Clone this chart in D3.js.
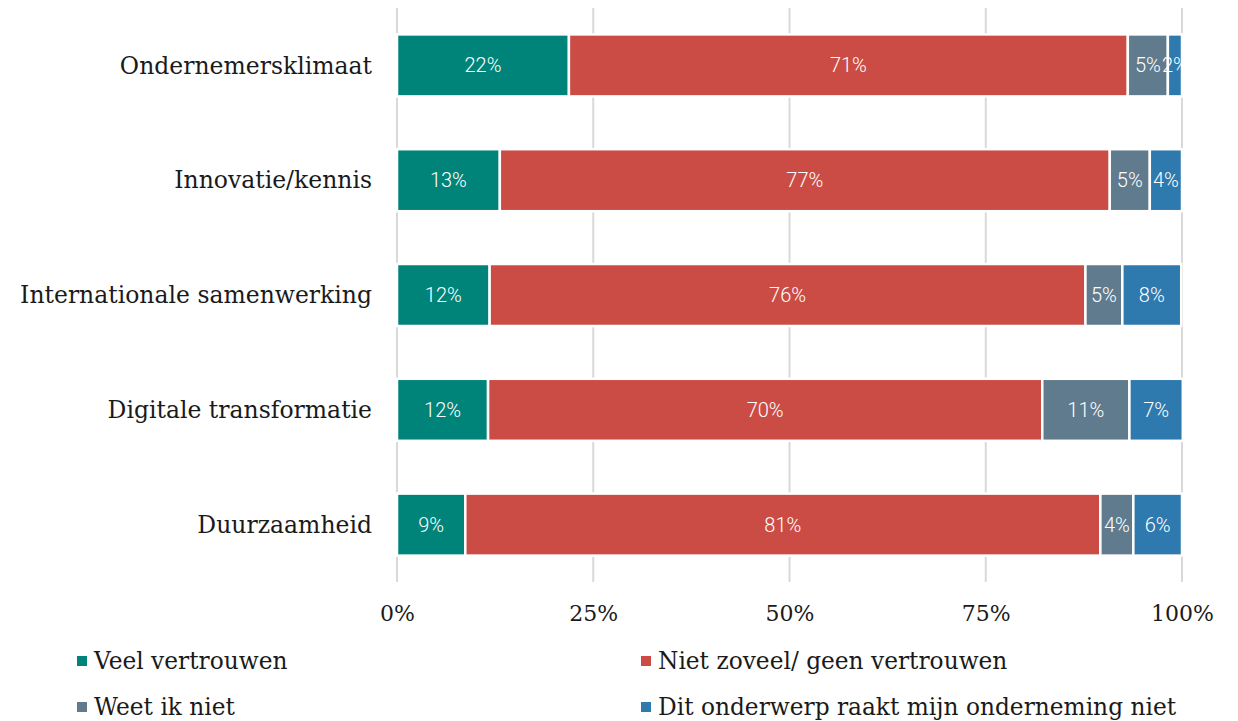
<!DOCTYPE html>
<html>
<head>
<meta charset="utf-8">
<script src="https://cdn.jsdelivr.net/npm/d3@7"></script>
<style>
  body { margin: 0; background: #fff; }
  .cat { font-family: "DejaVu Serif", serif; font-size: 23.5px; fill: #1a1a1a; }
  .tick-lbl { font-family: "DejaVu Serif", serif; font-size: 22px; fill: #1a1a1a; }
  .val { font-family: Roboto, sans-serif; font-size: 20px; font-weight: 300; fill: #fff; }
  .leg { font-family: "DejaVu Serif", serif; font-size: 23.3px; fill: #1a1a1a; }
</style>
</head>
<body>
<div id="chart"></div>
<script>
// Data
// ==============================
var categories = ["Ondernemersklimaat", "Innovatie/kennis", "Internationale samenwerking", "Digitale transformatie", "Duurzaamheid"];
var seriesNames = ["Veel vertrouwen", "Niet zoveel/ geen vertrouwen", "Weet ik niet", "Dit onderwerp raakt mijn onderneming niet"];
var veel = [21.9, 13.1, 11.8, 11.6, 8.7];
var nietZoveel = [71.2, 77.7, 75.9, 70.6, 80.9];
var weetNiet = [5.1, 5.1, 4.7, 11.1, 4.2];
var raaktNiet = [1.8, 4.1, 7.5, 6.8, 6.2];
var valueLabels = [
  ["22%", "71%", "5%", "2%"],
  ["13%", "77%", "5%", "4%"],
  ["12%", "76%", "5%", "8%"],
  ["12%", "70%", "11%", "7%"],
  ["9%", "81%", "4%", "6%"]
];
var tickValues = [0, 25, 50, 75, 100];
var colors = ["#00847a", "#cb4c44", "#5f7b8d", "#2e79ad"];

var svgWidth = 1238;
var svgHeight = 721;

var svg = d3.select("#chart")
  .append("svg")
  .attr("width", svgWidth)
  .attr("height", svgHeight);

// Scales
// ==============================
var xScale = d3.scaleLinear().domain([0, 100]).range([397, 1182]);
var yScale = d3.scaleBand().domain(categories).range([8, 582]).paddingInner(0.46).paddingOuter(0.23);

// Gridlines
svg.append("g")
  .selectAll("line")
  .data(tickValues)
  .enter()
  .append("line")
  .attr("x1", d => xScale(d))
  .attr("x2", d => xScale(d))
  .attr("y1", 8)
  .attr("y2", 582)
  .attr("stroke", "#d9d9d9")
  .attr("stroke-width", 2);

// Tick labels
var xAxis = d3.axisBottom(xScale).tickValues(tickValues).tickFormat(d => d + "%").tickSize(0);
var axisG = svg.append("g")
  .attr("transform", "translate(0, 602)")
  .call(xAxis);
axisG.select(".domain").remove();
axisG.selectAll("text").attr("class", "tick-lbl").attr("font-family", null).attr("font-size", null);

// Stack data
var rows = categories.map(function(c, i) {
  return { cat: c, s0: veel[i], s1: nietZoveel[i], s2: weetNiet[i], s3: raaktNiet[i], labels: valueLabels[i] };
});
var stack = d3.stack().keys(["s0", "s1", "s2", "s3"]);
var stacked = stack(rows);

var layers = svg.append("g")
  .selectAll("g")
  .data(stacked)
  .enter()
  .append("g")
  .attr("fill", (d, i) => colors[i]);

layers.selectAll("rect")
  .data(d => d)
  .enter()
  .append("rect")
  .attr("x", d => xScale(d[0]))
  .attr("y", d => yScale(d.data.cat))
  .attr("width", d => xScale(d[1]) - xScale(d[0]))
  .attr("height", yScale.bandwidth())
  .attr("stroke", "#fff")
  .attr("stroke-width", 2.5);

// Value labels
stacked.forEach(function(layer, k) {
  svg.append("g")
    .selectAll("text")
    .data(layer)
    .enter()
    .append("text")
    .attr("class", "val")
    .attr("x", d => (xScale(d[0]) + xScale(d[1])) / 2)
    .attr("y", d => yScale(d.data.cat) + yScale.bandwidth() / 2)
    .attr("dy", "0.35em")
    .attr("text-anchor", "middle")
    .text(d => d.data.labels[k]);
});

// Category labels
svg.append("g")
  .selectAll("text")
  .data(categories)
  .enter()
  .append("text")
  .attr("class", "cat")
  .attr("x", 372)
  .attr("y", d => yScale(d) + yScale.bandwidth() / 2)
  .attr("dy", "0.35em")
  .attr("text-anchor", "end")
  .text(d => d);

// Legend
var legendPos = [[77, 661], [641, 661], [77, 707], [641, 707]];
var legend = svg.append("g")
  .selectAll("g")
  .data(seriesNames)
  .enter()
  .append("g")
  .attr("transform", (d, i) => `translate(${legendPos[i][0]}, ${legendPos[i][1]})`);

legend.append("rect")
  .attr("x", 0)
  .attr("y", -5)
  .attr("width", 10)
  .attr("height", 10)
  .attr("fill", (d, i) => colors[i]);

legend.append("text")
  .attr("class", "leg")
  .attr("x", 17)
  .attr("dy", "0.35em")
  .text(d => d);
</script>
</body>
</html>
